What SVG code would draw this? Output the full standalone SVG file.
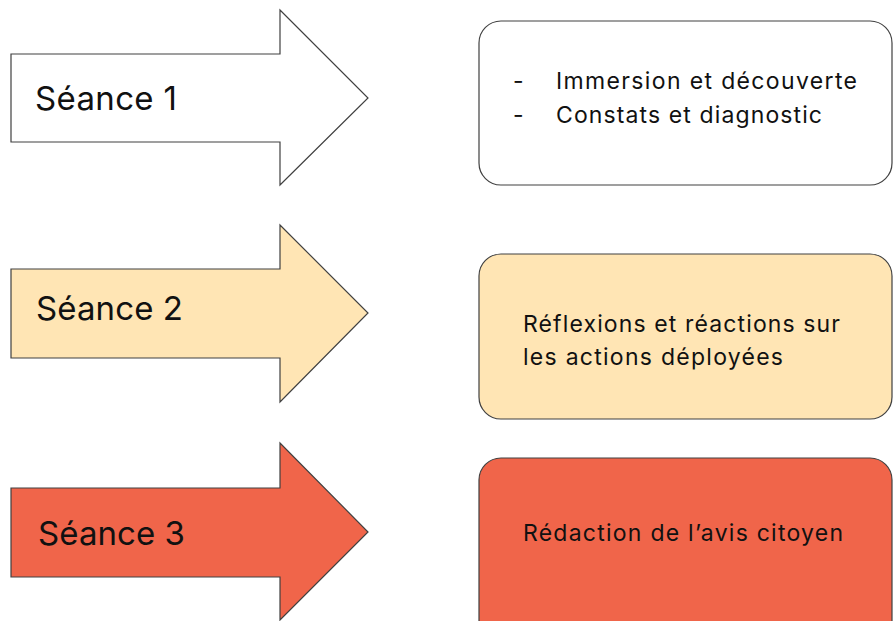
<svg xmlns="http://www.w3.org/2000/svg" width="893" height="621" viewBox="0 0 893 621">
<style>
.arr{stroke:#404040;stroke-width:1.2;stroke-linejoin:miter}
.box{stroke:#404040;stroke-width:1.2}
.big{font-family:Inter,"Liberation Sans",sans-serif;font-size:33px;fill:#111}
.txt{font-family:Inter,"Liberation Sans",sans-serif;font-size:23px;fill:#111}
.w{fill:#ffffff}.y{fill:#ffe5b4}.r{fill:#f0654a}
</style>
<rect width="893" height="621" fill="#ffffff"/>
<g id="arrow1">
<polygon class="arr w" points="11,54 280,54 280,10 368,98 280,185 280,142 11,142"/>
<text class="big" x="35" y="110" textLength="142" lengthAdjust="spacing">Séance 1</text>
</g>
<g id="box1">
<rect class="box w" x="479" y="21" width="413" height="164" rx="22"/>
<text class="txt" x="513" y="89">-</text>
<text class="txt" x="556" y="89" textLength="301" lengthAdjust="spacing">Immersion et découverte</text>
<text class="txt" x="513" y="123">-</text>
<text class="txt" x="556" y="123" textLength="266" lengthAdjust="spacing">Constats et diagnostic</text>
</g>
<g id="arrow2">
<polygon class="arr y" points="11,269 280,269 280,225 368,313 280,402 280,358 11,358"/>
<text class="big" x="36" y="320" textLength="147" lengthAdjust="spacing">Séance 2</text>
</g>
<g id="box2">
<rect class="box y" x="479" y="254" width="413" height="165" rx="22"/>
<text class="txt" x="523" y="332" textLength="317" lengthAdjust="spacing">Réflexions et réactions sur</text>
<text class="txt" x="523" y="365" textLength="260" lengthAdjust="spacing">les actions déployées</text>
</g>
<g id="arrow3">
<polygon class="arr r" points="11,488 280,488 280,443 368,532 280,620 280,577 11,577"/>
<text class="big" x="38" y="545" textLength="147" lengthAdjust="spacing">Séance 3</text>
</g>
<g id="box3">
<rect class="box r" x="479" y="458" width="413" height="190" rx="22"/>
<text class="txt" x="523" y="541" textLength="320" lengthAdjust="spacing">Rédaction de l’avis citoyen</text>
</g>
<g id="connectors"></g>
</svg>
